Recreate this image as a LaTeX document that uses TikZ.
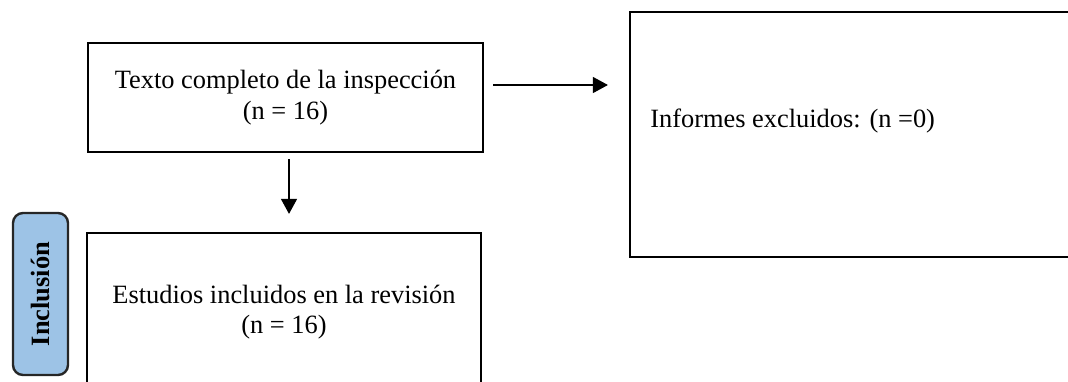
\documentclass[tikz,border=0pt]{standalone}
\usepackage{fontspec}
\setmainfont{Liberation Serif}
\usepackage{tikz}
\usetikzlibrary{shapes, arrows.meta, positioning, calc}
\definecolor{azulcaja}{RGB}{157,195,230}
\tikzstyle{caja} = [rectangle, draw=black, line width=1.1pt, text centered, align=center]
\tikzstyle{fase} = [rectangle, rounded corners=5pt, draw=black!85, line width=1.2pt, fill=azulcaja, minimum width=81pt, minimum height=27.5pt, rotate=90, font=\fontsize{13.2}{15.3}\selectfont\bfseries]
\tikzstyle{flecha} = [-{Triangle[length=7.5pt, width=8pt]}, line width=0.65pt]

\begin{document}
\begin{tikzpicture}[node distance=107.25pt, font=\fontsize{13.2}{15.3}\selectfont]
\useasboundingbox (0,0) rectangle (534pt,-190.5pt);
\clip (0,0) rectangle (534pt,-190.5pt);
\node (texto) [caja, minimum width=197.5pt, minimum height=54.5pt] at (142.75pt,-48.75pt) {Texto completo de la inspección \\ (n = 16)};
\node (estudios) [caja, below of=texto, xshift=-0.75pt, minimum width=197pt, minimum height=79pt] {Estudios incluidos en la revisión \\ (n = 16)};
\node (excl) [caja, right of=texto, xshift=182.5pt, yshift=-18.5pt, minimum width=235pt, minimum height=122.5pt,
  label={[anchor=west, inner sep=0pt, xshift=10.5pt, yshift=6.75pt]west:Informes excluidos: (n =0)}] {};
\node (inclusion) [left of=estudios, xshift=-14.5pt, yshift=9pt, fase] {Inclusión};

\draw[flecha] ([xshift=4.5pt, yshift=6.25pt]texto.east) -- ([xshift=-10.5pt, yshift=24.75pt]excl.west);
\draw[flecha] ([xshift=1.75pt, yshift=-3pt]texto.south) -- ($(texto.south |- estudios.north)+(1.75pt,9pt)$);
\end{tikzpicture}
\end{document}
